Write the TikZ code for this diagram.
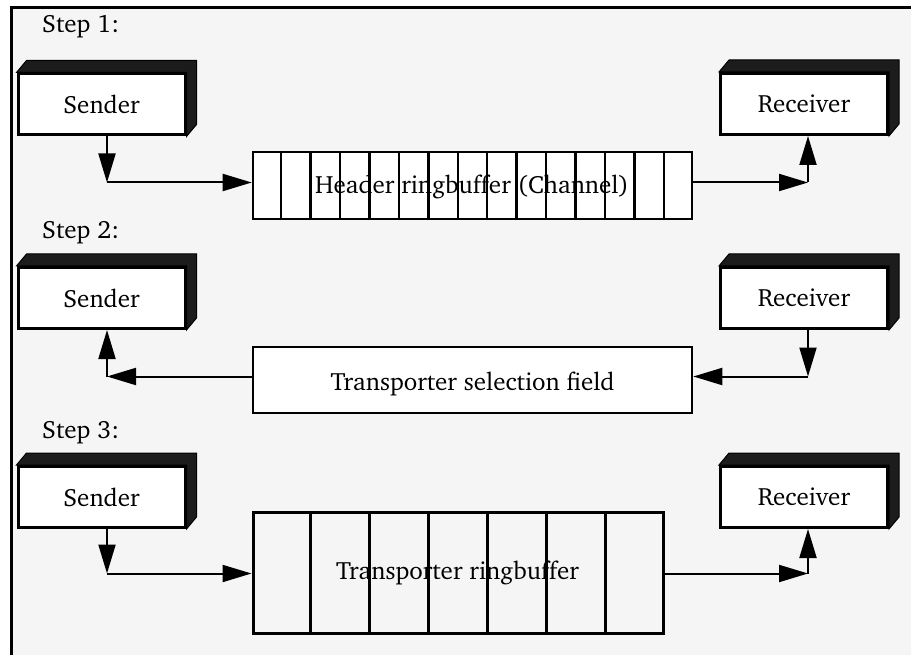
\documentclass[tikz,border=0pt]{standalone}
\usepackage[T1]{fontenc}
\usepackage{charter}
\usetikzlibrary{arrows.meta,calc}

\definecolor{panel}{HTML}{F5F5F5}
\definecolor{sidedark}{HTML}{1C1C1C}

\tikzset{
  lbl/.style={font=\fontsize{25}{29}\selectfont, inner sep=0pt},
  front/.style={draw=black, line width=3pt, fill=white, minimum width=167pt,
    minimum height=61pt, inner sep=0pt, font=\fontsize{25}{29}\selectfont},
  fieldbox/.style={draw=black, line width=2.6pt, fill=white, inner sep=0pt},
  link/.style={line width=2pt, -{Triangle[length=29pt,width=17pt]}},
}

% a box with a raised top and right side
\newcommand{\raisedbox}[3]{%
  \node[front] (#1) at (#2) {#3};
  \filldraw[fill=sidedark, draw=black, line width=1pt]
    (#1.north west) -- ++(10,-12) -- ([shift={(10,-12)}]#1.north east)
    -- ([shift={(10,-12)}]#1.south east) -- (#1.south east)
    -- (#1.north east) -- cycle;
  \node[front] at (#2) {#3};
}

\begin{document}
\begin{tikzpicture}[x=1pt,y=-1pt]
\useasboundingbox (0,0) rectangle (911,655);
\fill[white] (0,0) rectangle (911,655);
\fill[panel] (10,6) rectangle (911,655);
\draw[line width=2.6pt] (11.3,655) -- (11.3,7.3) -- (911,7.3);

% ---------- Step 1 ----------
\node[lbl, anchor=west] (t1) at (42,27) {Step 1:};
\raisedbox{s1}{101.5,104.5}{Sender}
\raisedbox{r1}{804,104}{Receiver}

\node[fieldbox, minimum width=439pt, minimum height=67pt] (h1) at (472.5,185.5) {};
\foreach \k in {1,...,14}
  \draw[line width=2.5pt] ($(h1.south west)!\k/15!(h1.south east)$)
    -- ($(h1.north west)!\k/15!(h1.north east)$);
\node[lbl] (h1t) at (472,187) {Header ringbuffer (Channel)};

\coordinate (c1a) at (107,182.5);
\coordinate (c1b) at (808,182.5);
\draw[link] ([xshift=5.5pt]s1.south) -- (c1a);
\draw[link] (c1a) -- (c1a -| h1.west);
\draw[link] (c1a -| h1.east) -- (c1b);
\draw[link] (c1b) -- ([xshift=4pt]r1.south);

% ---------- Step 2 ----------
\node[lbl, anchor=west] (t2) at (42,233) {Step 2:};
\raisedbox{s2}{101.5,298}{Sender}
\raisedbox{r2}{804,298}{Receiver}

\node[fieldbox, minimum width=439pt, minimum height=66pt] (f2) at (472.5,380) {};
\node[lbl] (f2t) at (472.5,384) {Transporter selection field};

\coordinate (c2a) at (107,376.5);
\coordinate (c2b) at (808,376.5);
\draw[link] ([xshift=4pt]r2.south) -- (c2b);
\draw[link] (c2b) -- (c2b -| f2.east);
\draw[link] (c2a -| f2.west) -- (c2a);
\draw[link] (c2a) -- ([xshift=5.5pt]s2.south);

% ---------- Step 3 ----------
\node[lbl, anchor=west] (t3) at (42,433) {Step 3:};
\raisedbox{s3}{101.5,497}{Sender}
\raisedbox{r3}{804,497}{Receiver}

\node[draw=black, line width=3pt, fill=panel, minimum width=410pt,
  minimum height=121pt, inner sep=0pt] (b3) at (458,572.5) {};
\foreach \k in {1,...,6}
  \draw[line width=3pt] ($(b3.south west)!\k/7!(b3.south east)$)
    -- ($(b3.north west)!\k/7!(b3.north east)$);
\node[lbl] (b3t) at (457.5,573) {Transporter ringbuffer};

\coordinate (c3a) at (107,573.5);
\coordinate (c3b) at (808,573.5);
\draw[link] ([xshift=5.5pt]s3.south) -- (c3a);
\draw[link] (c3a) -- (c3a -| b3.west);
\draw[link] (c3a -| b3.east) -- (c3b);
\draw[link] (c3b) -- ([xshift=4pt]r3.south);
\end{tikzpicture}
\end{document}
